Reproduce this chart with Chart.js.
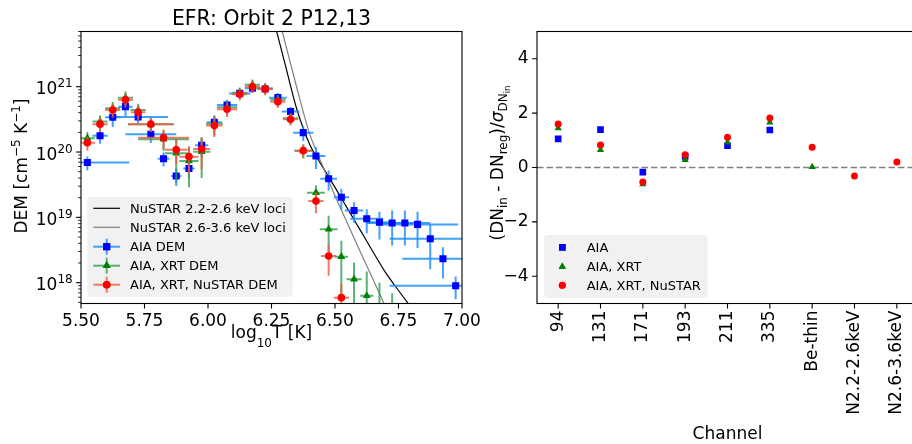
<!DOCTYPE html>
<html><head><meta charset="utf-8">
<script src="https://cdn.jsdelivr.net/npm/chart.js@4/dist/chart.umd.min.js"></script>
<style>
html,body{margin:0;padding:0;background:#fff;overflow:hidden;width:912px;height:444px;}
#c1{position:absolute;left:0;top:0;width:500px;height:444px;}
#c2{position:absolute;left:480px;top:0;width:450px;height:444px;}
</style></head><body>
<canvas id="c1" width="500" height="444"></canvas>
<canvas id="c2" width="450" height="444"></canvas>
<script>
// ---------------- DATA ----------------
const tempTicks = [5.5, 5.75, 6.0, 6.25, 6.5, 6.75, 7.0];
const demTickExponents = [18, 19, 20, 21];
const tempGrid = [5.525,5.575,5.625,5.675,5.725,5.775,5.825,5.875,5.925,5.975,6.025,6.075,6.125,6.175,6.225,6.275,6.325,6.375,6.425,6.475,6.525,6.575,6.625,6.675,6.725,6.775,6.825,6.875,6.925,6.975];

const aiaDem    = [6.9e19,1.78e20,3.4e20,4.95e20,3.45e20,1.87e20,7.9e19,4.3e19,5.6e19,1.27e20,2.86e20,5.26e20,7.9e20,9.5e20,9.25e20,6.8e20,4.16e20,1.98e20,8.7e19,3.9e19,2.03e19,1.27e19,9.5e18,8.4e18,8.2e18,8.2e18,7.8e18,4.7e18,2.33e18,9.0e17];
const aiaDemErr = [1.66e19,4.45e19,9.9e19,1.39e20,6.9e19,4.9e19,1.9e19,1.29e19,1.57e19,4.2e19,7.7e19,1.05e20,1.19e20,1.43e20,1.39e20,1.22e20,7.9e19,5.1e19,3.2e19,1.33e19,7.1e18,4.4e18,3.8e18,3.8e18,4.5e18,4.5e18,4.4e18,3.1e18,1.17e18,3.4e17];
const aiaTErr   = [0.165,0.03,0.03,0.028,0.117,0.1,0.023,0.02,0.022,0.026,0.03,0.04,0.042,0.03,0.03,0.035,0.035,0.04,0.037,0.033,0.03,0.036,0.065,0.05,0.1,0.1,0.16,0.16,0.16,0.26];

const xrtT      = [5.525,5.575,5.625,5.675,5.725,5.775,5.825,5.875,5.925,5.975,6.025,6.075,6.125,6.175,6.225,6.275,6.325,6.375,6.425,6.475,6.525,6.575,6.625,6.675,6.725];
const xrtDem    = [1.63e20,2.93e20,4.7e20,6.8e20,4.4e20,2.67e20,1.57e20,9.6e19,7.3e19,1.01e20,2.7e20,4.85e20,8.1e20,1.07e21,9.5e20,6.3e20,3.3e20,1.05e20,2.39e19,6.6e18,2.5e18,1.13e18,6.3e17,2.5e17,2.0e17];
const xrtDemErr = [3.9e19,7.0e19,1.13e20,1.63e20,1.06e20,6.4e19,5.2e19,6.2e19,4.4e19,6.1e19,8.9e19,1.16e20,1.62e20,2.14e20,1.9e20,1.26e20,6.6e19,2.5e19,7.2e18,4.0e18,1.9e18,9.0e17,8.5e17,7.5e17,4.9e17];
const xrtTErr   = [0.03,0.03,0.03,0.03,0.03,0.09,0.1,0.045,0.038,0.034,0.033,0.04,0.03,0.03,0.03,0.03,0.03,0.035,0.035,0.035,0.026,0.03,0.026,0.03,0.03];

const nuT       = [5.525,5.575,5.625,5.675,5.725,5.775,5.825,5.875,5.925,5.975,6.025,6.075,6.125,6.175,6.225,6.275,6.325,6.375,6.425,6.475,6.525];
const nuDem     = [1.39e20,2.67e20,4.4e20,6.3e20,4.07e20,2.67e20,1.66e20,1.08e20,8.5e19,1.11e20,2.54e20,4.52e20,7.67e20,1.0e21,9.25e20,5.9e20,3.18e20,1.05e20,1.78e19,2.56e18,5.9e17];
const nuDemErr  = [3.3e19,6.4e19,1.06e20,1.51e20,9.8e19,6.4e19,5.5e19,4.3e19,3.8e19,5.6e19,8.4e19,1.08e20,1.53e20,2.0e20,1.85e20,1.18e20,6.4e19,2.5e19,6.2e18,1.28e18,3.8e17];
const nuTErr    = [0.03,0.03,0.03,0.03,0.028,0.09,0.1,0.045,0.038,0.034,0.033,0.04,0.03,0.03,0.03,0.03,0.03,0.033,0.03,0.03,0.03];

const lociLowT  = [6.25,6.30,6.35,6.40,6.45,6.50,6.55,6.60,6.65,6.70,6.75,6.80,6.85];
const lociLow   = [1.41e22,2.51e21,4.47e20,1.32e20,6.03e19,2.88e19,1.35e19,6.31e18,2.95e18,1.41e18,7.59e17,4.17e17,2.34e17];
const lociHighT = [6.25,6.30,6.35,6.40,6.45,6.50,6.55,6.60,6.65,6.70,6.75];
const lociHigh  = [3.16e22,5.37e21,9.55e20,1.91e20,6.31e19,2.14e19,7.94e18,2.95e18,1.12e18,4.17e17,1.58e17];

const channels   = ['94','131','171','193','211','335','Be-thin','N2.2-2.6keV','N2.6-3.6keV'];
const residTicks = [-4, -2, 0, 2, 4];
const resAia     = [1.05, 1.39, -0.17, 0.41, 0.80, 1.38, null, null, null];
const resXrt     = [1.45, 0.65, -0.61, 0.28, 0.92, 1.66, 0.02, null, null];
const resNustar  = [1.60, 0.83, -0.53, 0.47, 1.11, 1.82, 0.74, -0.31, 0.20];

// ---------------- HELPERS ----------------
const FAM = '"DejaVu Sans", "Liberation Sans", sans-serif';
function fnt(size, style) { return (style ? style + ' ' : '') + size + 'px ' + FAM; }
function richWidth(ctx, parts) { let w = 0; for (const p of parts) { ctx.font = fnt(p[1], p[3]); w += ctx.measureText(p[0]).width; } return w; }
function drawRich(ctx, parts, x, y, align) {
  const w = richWidth(ctx, parts);
  let cx = align === 'center' ? x - w / 2 : (align === 'right' ? x - w : x);
  ctx.textAlign = 'left'; ctx.textBaseline = 'alphabetic'; ctx.fillStyle = '#000';
  for (const p of parts) { ctx.font = fnt(p[1], p[3]); ctx.fillText(p[0], cx, y + p[2]); cx += ctx.measureText(p[0]).width; }
}
function roundRect(ctx, x, y, w, h, r) {
  ctx.beginPath();
  ctx.moveTo(x + r, y); ctx.lineTo(x + w - r, y); ctx.quadraticCurveTo(x + w, y, x + w, y + r);
  ctx.lineTo(x + w, y + h - r); ctx.quadraticCurveTo(x + w, y + h, x + w - r, y + h);
  ctx.lineTo(x + r, y + h); ctx.quadraticCurveTo(x, y + h, x, y + h - r);
  ctx.lineTo(x, y + r); ctx.quadraticCurveTo(x, y, x + r, y); ctx.closePath();
}
function marker(ctx, style, r, color, x, y) {
  ctx.save(); ctx.fillStyle = color; ctx.strokeStyle = color;
  Chart.helpers.drawPoint(ctx, {pointStyle: style, radius: r, borderWidth: 0, rotation: 0}, x, y);
  ctx.fill(); ctx.restore();
}

Chart.defaults.font.family = FAM;
Chart.defaults.font.size = 17;
Chart.defaults.color = '#000';

const BLUE = '#0000ff', GREEN = '#008000', RED = '#ff0000';
const EBLUE = 'rgba(30,144,255,0.85)', EGREEN = 'rgba(46,160,87,0.8)', ERED = 'rgba(240,90,60,0.8)';

function pts(xs, ys) { return xs.map((x, i) => ({x: x, y: ys[i]})); }

// ---------------- LEFT CHART ----------------
const leftPlugin = {
  id: 'leftDecor',
  beforeDatasetDraw(chart, args) {
    const ds = chart.data.datasets[args.index];
    if (!ds.errColor) return;
    const xs = chart.scales.x, ys = chart.scales.y, a = chart.chartArea, ctx = chart.ctx;
    ctx.save();
    ctx.beginPath(); ctx.rect(a.left, a.top, a.right - a.left, a.bottom - a.top); ctx.clip();
    ctx.strokeStyle = ds.errColor; ctx.lineWidth = 2;
    ds.data.forEach((p, i) => {
      const px = xs.getPixelForValue(p.x), py = ys.getPixelForValue(p.y);
      const x0 = xs.getPixelForValue(p.x - ds.xErr[i]), x1 = xs.getPixelForValue(p.x + ds.xErr[i]);
      const lo = p.y - ds.yErr[i];
      const y0 = lo > 0 ? ys.getPixelForValue(lo) : a.bottom + 20;
      const y1 = ys.getPixelForValue(p.y + ds.yErr[i]);
      ctx.beginPath(); ctx.moveTo(x0, py); ctx.lineTo(x1, py); ctx.stroke();
      ctx.beginPath(); ctx.moveTo(px, y0); ctx.lineTo(px, y1); ctx.stroke();
    });
    ctx.restore();
  },
  afterDraw(chart) {
    const ctx = chart.ctx, a = chart.chartArea, xs = chart.scales.x, ys = chart.scales.y;
    ctx.save();
    ctx.strokeStyle = '#000'; ctx.lineWidth = 1.1;
    ctx.strokeRect(a.left, a.top, a.right - a.left, a.bottom - a.top);
    ctx.beginPath();
    xs.ticks.forEach(t => { const px = xs.getPixelForValue(t.value); ctx.moveTo(px, a.bottom); ctx.lineTo(px, a.bottom + 4.9); });
    ctx.stroke();
    for (let e = demTickExponents[0] - 1; e <= demTickExponents[demTickExponents.length - 1]; e++) {
      for (let m = 1; m <= 9; m++) {
        const v = m * Math.pow(10, e);
        if (v < ys.min || v > ys.max) continue;
        const py = ys.getPixelForValue(v);
        const len = m === 1 ? 4.9 : 2.8;
        ctx.lineWidth = m === 1 ? 1.1 : 0.85;
        ctx.beginPath(); ctx.moveTo(a.left - len, py); ctx.lineTo(a.left, py); ctx.stroke();
      }
    }
    demTickExponents.forEach(e => {
      const py = ys.getPixelForValue(Math.pow(10, e));
      drawRich(ctx, [['10', 17, 0], [String(e), 12, -7]], a.left - 8.3, py + 7.6, 'right');
    });
    // title
    ctx.fillStyle = '#000'; ctx.font = fnt(20.4); ctx.textAlign = 'center'; ctx.textBaseline = 'alphabetic';
    ctx.fillText('EFR: Orbit 2 P12,13', (a.left + a.right) / 2, 25);
    // axis titles
    drawRich(ctx, [['log', 17, 0], ['10', 12, 9], ['T [K]', 17, 0]], (a.left + a.right) / 2, 338.3, 'center');
    ctx.save(); ctx.translate(27, (a.top + a.bottom) / 2 - 1.5); ctx.rotate(-Math.PI / 2);
    drawRich(ctx, [['DEM [cm', 17, 0], ['\u22125', 12, -7], [' K', 17, 0], ['\u22121', 12, -7], [']', 17, 0]], 0, 0, 'center');
    ctx.restore();
    // legend
    const lx = 87.3, ly = 196.7;
    ctx.fillStyle = 'rgba(240,240,240,0.95)';
    roundRect(ctx, lx, ly, 205.4, 100, 4); ctx.fill();
    const rows = [208.3, 227.3, 246.7, 265.7, 284.7];
    const hx0 = 93.3, hx1 = 120, hc = 106.7;
    ctx.lineWidth = 1.2;
    ctx.strokeStyle = '#000'; ctx.beginPath(); ctx.moveTo(hx0, rows[0]); ctx.lineTo(hx1, rows[0]); ctx.stroke();
    ctx.strokeStyle = '#808080'; ctx.beginPath(); ctx.moveTo(hx0, rows[1]); ctx.lineTo(hx1, rows[1]); ctx.stroke();
    const eh = [[EBLUE, 'rect', 5, BLUE], [EGREEN, 'triangle', 4.6, GREEN], [ERED, 'circle', 3.8, RED]];
    eh.forEach((h, k) => {
      const y = rows[2 + k];
      ctx.strokeStyle = h[0]; ctx.lineWidth = 2;
      ctx.beginPath(); ctx.moveTo(hx0, y); ctx.lineTo(hx1, y); ctx.stroke();
      ctx.beginPath(); ctx.moveTo(hc, y - 8); ctx.lineTo(hc, y + 8); ctx.stroke();
      marker(ctx, h[1], h[2], h[3], hc, y);
    });
    const labels = ['NuSTAR 2.2-2.6 keV loci', 'NuSTAR 2.6-3.6 keV loci', 'AIA DEM', 'AIA, XRT DEM', 'AIA, XRT, NuSTAR DEM'];
    ctx.fillStyle = '#000'; ctx.font = fnt(13); ctx.textAlign = 'left'; ctx.textBaseline = 'alphabetic';
    labels.forEach((t, k) => ctx.fillText(t, 130, rows[k] + 4.7));
    ctx.restore();
  }
};

new Chart(document.getElementById('c1'), {
  type: 'scatter',
  data: {
    datasets: [
      {label: 'AIA, XRT, NuSTAR DEM', data: pts(nuT, nuDem), xErr: nuTErr, yErr: nuDemErr, errColor: ERED,
       pointStyle: 'circle', pointRadius: 3.8, pointBackgroundColor: RED, pointBorderWidth: 0, order: 1},
      {label: 'AIA, XRT DEM', data: pts(xrtT, xrtDem), xErr: xrtTErr, yErr: xrtDemErr, errColor: EGREEN,
       pointStyle: 'triangle', pointRadius: 4.6, pointBackgroundColor: GREEN, pointBorderWidth: 0, order: 2},
      {label: 'AIA DEM', data: pts(tempGrid, aiaDem), xErr: aiaTErr, yErr: aiaDemErr, errColor: EBLUE,
       pointStyle: 'rect', pointRadius: 5, pointBackgroundColor: BLUE, pointBorderWidth: 0, order: 3},
      {label: 'NuSTAR 2.6-3.6 keV loci', data: pts(lociHighT, lociHigh), showLine: true, borderColor: '#808080',
       borderWidth: 1.2, pointRadius: 0, cubicInterpolationMode: 'monotone', order: 4},
      {label: 'NuSTAR 2.2-2.6 keV loci', data: pts(lociLowT, lociLow), showLine: true, borderColor: '#000',
       borderWidth: 1.2, pointRadius: 0, cubicInterpolationMode: 'monotone', order: 5}
    ]
  },
  options: {
    responsive: false, animation: false, events: [],
    layout: {autoPadding: false, padding: {left: 0, top: 31.5, right: 38, bottom: 0}},
    plugins: {legend: {display: false}, tooltip: {enabled: false}},
    scales: {
      x: {type: 'linear', min: tempTicks[0], max: tempTicks[tempTicks.length - 1],
          afterBuildTicks: s => { s.ticks = tempTicks.map(v => ({value: v})); },
          ticks: {callback: v => v.toFixed(2), padding: 2.4, maxRotation: 0, autoSkip: false, font: {size: 17}},
          grid: {display: true, drawOnChartArea: false, drawTicks: true, tickLength: 5, tickColor: 'rgba(0,0,0,0)'},
          border: {display: false},
          afterFit: s => { s.height = 140.5; s.paddingLeft = 0; s.paddingRight = 0; }},
      y: {type: 'logarithmic', min: 4.8e17, max: 7.0e21,
          ticks: {display: false}, grid: {display: false}, border: {display: false},
          afterFit: s => { s.width = 81; s.paddingTop = 0; s.paddingBottom = 0; }}
    }
  },
  plugins: [leftPlugin]
});

// ---------------- RIGHT CHART ----------------
const rightPlugin = {
  id: 'rightDecor',
  beforeDatasetsDraw(chart) {
    const ctx = chart.ctx, a = chart.chartArea, ys = chart.scales.y;
    const py = ys.getPixelForValue(0);
    ctx.save(); ctx.strokeStyle = '#808080'; ctx.lineWidth = 1.5; ctx.setLineDash([6.5, 3]);
    ctx.beginPath(); ctx.moveTo(a.left, py); ctx.lineTo(a.right, py); ctx.stroke(); ctx.restore();
  },
  afterDraw(chart) {
    const ctx = chart.ctx, a = chart.chartArea, xs = chart.scales.x, ys = chart.scales.y;
    ctx.save();
    ctx.strokeStyle = '#000'; ctx.lineWidth = 1.1;
    ctx.strokeRect(a.left, a.top, a.right - a.left, a.bottom - a.top);
    ctx.beginPath();
    ys.ticks.forEach(t => { const py = ys.getPixelForValue(t.value); ctx.moveTo(a.left - 4.9, py); ctx.lineTo(a.left, py); });
    channels.forEach((c, i) => { const px = xs.getPixelForValue(i); ctx.moveTo(px, a.bottom); ctx.lineTo(px, a.bottom + 4.9); });
    ctx.stroke();
    // axis titles
    drawRich(ctx, [['Channel', 17, 0]], (a.left + a.right) / 2, 439, 'center');
    ctx.save(); ctx.translate(503.3 - 480, (a.top + a.bottom) / 2 - 4.5); ctx.rotate(-Math.PI / 2);
    drawRich(ctx, [['(DN', 17, 0], ['in', 12, 4], [' - DN', 17, 0], ['reg', 12, 4], [')/', 17, 0], ['\u03c3', 17, 0, 'italic'], ['DN', 12, 4], ['in', 8.5, 6.5]], 0, 0, 'center');
    ctx.restore();
    // legend
    const lx = 544 - 480, ly = 235;
    ctx.fillStyle = 'rgba(240,240,240,0.95)';
    roundRect(ctx, lx, ly, 163.7, 62.7, 4); ctx.fill();
    const rows = [247.3, 266.7, 285.3];
    const mx = 562.3 - 480;
    marker(ctx, 'rect', 4.7, BLUE, mx, rows[0]);
    marker(ctx, 'triangle', 4.2, GREEN, mx, rows[1]);
    marker(ctx, 'circle', 3.5, RED, mx, rows[2]);
    ctx.fillStyle = '#000'; ctx.font = fnt(13); ctx.textAlign = 'left'; ctx.textBaseline = 'alphabetic';
    ['AIA', 'AIA, XRT', 'AIA, XRT, NuSTAR'].forEach((t, k) => ctx.fillText(t, 586.7 - 480, rows[k] + 4.7));
    ctx.restore();
  }
};

new Chart(document.getElementById('c2'), {
  type: 'line',
  data: {
    labels: channels,
    datasets: [
      {label: 'AIA, XRT, NuSTAR', data: resNustar, showLine: false, pointStyle: 'circle', pointRadius: 3.5,
       pointBackgroundColor: RED, pointBorderWidth: 0, order: 1},
      {label: 'AIA, XRT', data: resXrt, showLine: false, pointStyle: 'triangle', pointRadius: 4.2,
       pointBackgroundColor: GREEN, pointBorderWidth: 0, order: 2},
      {label: 'AIA', data: resAia, showLine: false, pointStyle: 'rect', pointRadius: 4.7,
       pointBackgroundColor: BLUE, pointBorderWidth: 0, order: 3}
    ]
  },
  options: {
    responsive: false, animation: false, events: [],
    layout: {autoPadding: false, padding: {left: 0, top: 31.5, right: 12, bottom: 0}},
    plugins: {legend: {display: false}, tooltip: {enabled: false}},
    scales: {
      x: {type: 'category', offset: true,
          ticks: {minRotation: 90, maxRotation: 90, autoSkip: false, padding: 2, font: {size: 17}},
          grid: {display: true, offset: false, drawOnChartArea: false, drawTicks: true, tickLength: 5, tickColor: 'rgba(0,0,0,0)'},
          border: {display: false},
          afterFit: s => { s.height = 140.5; s.paddingLeft = 0; s.paddingRight = 0; }},
      y: {type: 'linear', min: -5, max: 5,
          afterBuildTicks: s => { s.ticks = residTicks.map(v => ({value: v})); },
          ticks: {callback: v => (v < 0 ? '\u2212' + Math.abs(v) : String(v)), padding: 3.5, font: {size: 17}},
          grid: {display: true, drawOnChartArea: false, drawTicks: true, tickLength: 5, tickColor: 'rgba(0,0,0,0)'},
          border: {display: false},
          afterFit: s => { s.width = 57; s.paddingTop = 0; s.paddingBottom = 0; }}
    }
  },
  plugins: [rightPlugin]
});
</script></body></html>
